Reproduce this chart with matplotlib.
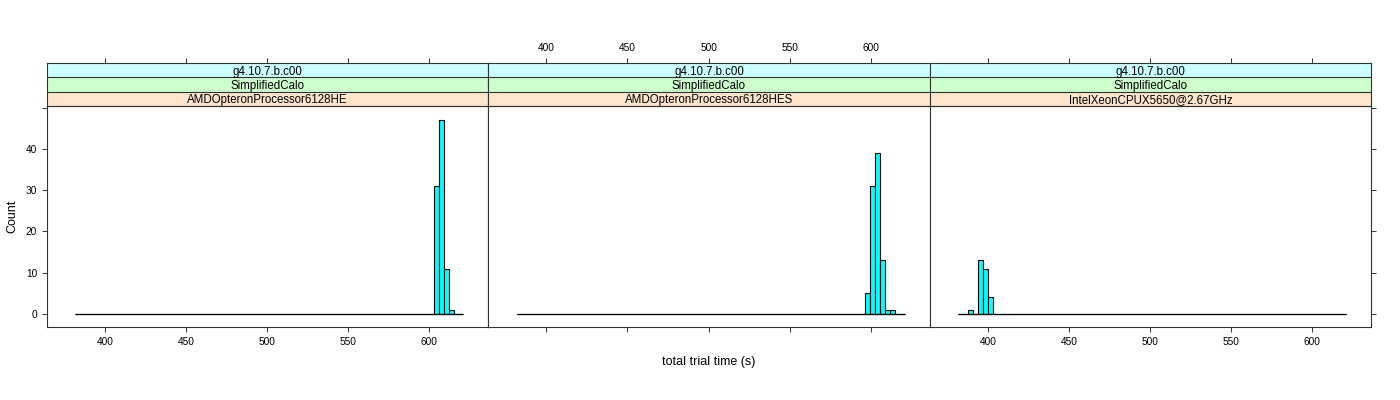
import numpy as np
import matplotlib
matplotlib.use('Agg')
import matplotlib.pyplot as plt

plt.rcParams['font.family'] = ['Liberation Sans', 'DejaVu Sans']

# histogram breaks shared by all panels (total trial time, s)
bin_edges = np.linspace(381.6, 621.0, 79)

# strip labels, top to bottom
versions = ['g4.10.7.b.c00', 'g4.10.7.b.c00', 'g4.10.7.b.c00']
tests = ['SimplifiedCalo', 'SimplifiedCalo', 'SimplifiedCalo']
cpus = ['AMDOpteronProcessor6128HE', 'AMDOpteronProcessor6128HES',
        'IntelXeonCPUX5650@2.67GHz']

# non-empty bins: bin index -> count
bins_p1 = [72, 73, 74, 75]
counts_p1 = [31, 47, 11, 1]
bins_p2 = [70, 71, 72, 73, 74, 75]
counts_p2 = [5, 31, 39, 13, 1, 1]
bins_p3 = [2, 4, 5, 6]
counts_p3 = [1, 13, 11, 4]

panels = [(bins_p1, counts_p1), (bins_p2, counts_p2), (bins_p3, counts_p3)]

x_ticks = [400, 450, 500, 550, 600]
y_ticks = [0, 10, 20, 30, 40, 50]
y_labels = ['0', '10', '20', '30', '40', '']

xlim = (364.2, 636.3)
ylim = (-3.1, 50.4)
strip_cols = ['#FFE5CC', '#CCFFCC', '#CCFFFF']

fig = plt.figure(figsize=(14, 4), dpi=100)
W, H = 1400.0, 400.0
lefts = [47, 488.3, 929.7]
pw = 441.3
p_top, p_bot, s_top = 106.0, 326.7, 63.0

for i, (bins, counts) in enumerate(panels):
    ax = fig.add_axes([lefts[i] / W, 1 - p_bot / H, pw / W, (p_bot - p_top) / H])
    full = np.zeros(len(bin_edges) - 1)
    full[bins] = counts
    # empty bins show up as a flat line along zero
    ax.plot([bin_edges[0], bin_edges[-1]], [0, 0], color='black',
            linewidth=0.9, solid_capstyle='butt')
    ax.bar(bin_edges[:-1], full, width=np.diff(bin_edges), align='edge',
           color='#00FFFF', edgecolor='black', linewidth=0.8)
    ax.set_xlim(*xlim)
    ax.set_ylim(*ylim)
    for sp in ax.spines.values():
        sp.set_linewidth(0.8)
        sp.set_color('#333333')
    ax.set_xticks(x_ticks)
    ax.tick_params(axis='both', direction='out', length=3.6, width=0.7,
                   labelsize=7.3, pad=3.5, color='#333333')
    ax.tick_params(axis='x', bottom=True, labelbottom=(i != 1), top=False)
    ax.set_yticks(y_ticks)
    ax.set_yticklabels(y_labels)
    ax.tick_params(axis='y', left=(i == 0), labelleft=(i == 0),
                   right=(i == 2), labelright=False)

    # strips
    sx = fig.add_axes([lefts[i] / W, 1 - p_top / H, pw / W, (p_top - s_top) / H])
    sx.set_xlim(*xlim)
    sx.set_ylim(0, 3)
    labels = [cpus[i], tests[i], versions[i]]
    for k in range(3):
        sx.axhspan(k, k + 1, color=strip_cols[k], zorder=0)
        sx.axhline(k, color='#333333', linewidth=0.8)
        sx.text(np.mean(xlim), k + 0.5, labels[k], ha='center',
                va='center_baseline', fontsize=8.3)
    for sp in sx.spines.values():
        sp.set_linewidth(0.8)
        sp.set_color('#333333')
    sx.set_yticks([])
    sx.set_xticks(x_ticks)
    sx.tick_params(axis='x', top=True, bottom=False, labelbottom=False,
                   labeltop=(i == 1), direction='out', length=3.6, width=0.7,
                   labelsize=7.3, pad=3.5, color='#333333')

fig.text(709 / W, 1 - 362 / H, 'total trial time (s)', ha='center', va='center',
         fontsize=9)
fig.text(12 / W, 1 - 216 / H, 'Count', ha='center', va='center',
         fontsize=9, rotation=90)

fig.savefig('out.png', dpi=100)
